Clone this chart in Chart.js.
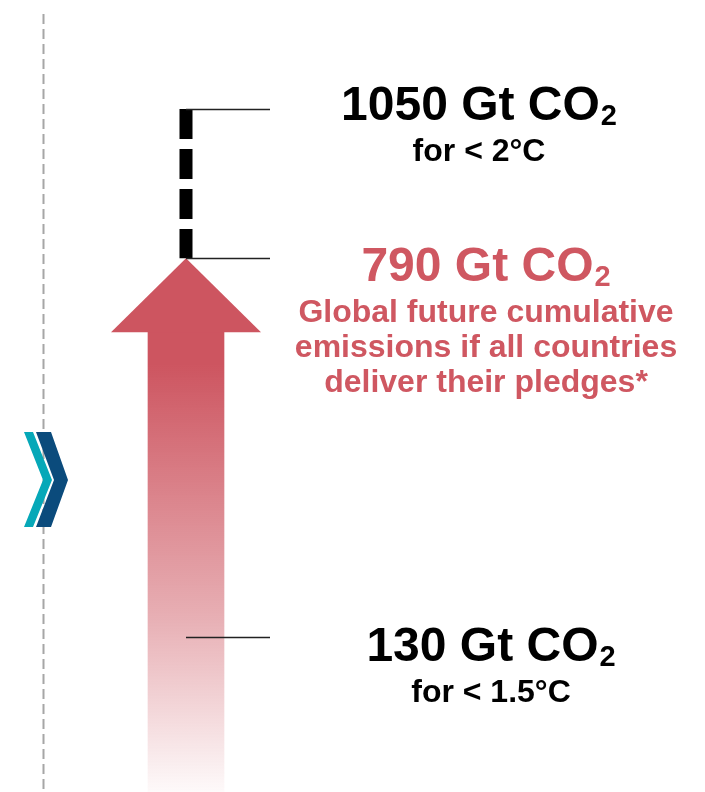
<!DOCTYPE html>
<html>
<head>
<meta charset="utf-8">
<script src="https://cdn.jsdelivr.net/npm/chart.js@4"></script>
<style>
  html, body { margin: 0; padding: 0; background: #fff; }
  #wrap { width: 705px; height: 792px; }
</style>
</head>
<body>
<div id="wrap"><canvas id="chartCanvas" width="705" height="792"></canvas></div>
<script>
// --- data: carbon budgets in Gt CO2 ---
const levels = [1050, 790, 130];
const headlines = ["1050 Gt CO", "790 Gt CO", "130 Gt CO"];
const sublines = [
  ["for < 2°C"],
  ["Global future cumulative", "emissions if all countries", "deliver their pledges*"],
  ["for < 1.5°C"]
];
const pledged = 790;    // where the arrow stops
const budget2C = 1050;  // dashed extension up to the 2°C budget

// --- look ---
const RED = "#cd5560";
const TEXT_RED = "#cf5761";
const FONT = "'Liberation Sans', Arial, sans-serif";
const Y_MIN = -140, Y_MAX = 1240;   // schematic, hidden axis
const HEAD_H = 74, HEAD_HALF = 75;
const textCx = [479, 486, 491];
const textDy = [10, 22, 23];
const textColor = ["#000", TEXT_RED, "#000"];

const canvas = document.getElementById("chartCanvas");

function shaftColor(c) {
  const chart = c.chart;
  const area = chart.chartArea;
  if (!area) return RED;
  const top = chart.scales.y.getPixelForValue(pledged) + HEAD_H;
  const g = chart.ctx.createLinearGradient(0, top, 0, area.bottom);
  g.addColorStop(0, "rgba(205,85,96,1)");
  g.addColorStop(0.07, "rgba(205,85,96,1)");
  g.addColorStop(0.62, "rgba(205,85,96,0.47)");
  g.addColorStop(1, "rgba(205,85,96,0.03)");
  return g;
}

const decor = {
  id: "decor",
  beforeDatasetsDraw(chart) {
    const ctx = chart.ctx;
    // grey dashed divider
    ctx.save();
    ctx.strokeStyle = "#a6a6a6";
    ctx.lineWidth = 2;
    ctx.setLineDash([10, 5]);
    ctx.beginPath();
    ctx.moveTo(43.5, 14);
    ctx.lineTo(43.5, chart.height);
    ctx.stroke();
    ctx.setLineDash([]);
    // chevrons
    const poly = (pts, col) => {
      ctx.fillStyle = col;
      ctx.beginPath();
      pts.forEach((p, i) => i ? ctx.lineTo(p[0], p[1]) : ctx.moveTo(p[0], p[1]));
      ctx.closePath();
      ctx.fill();
    };
    poly([[24, 432], [33, 432], [52, 480], [33, 527], [24, 527], [43, 480]], "#06a8b8");
    poly([[36, 432], [51, 432], [68, 480], [51, 527], [36, 527], [54, 480]], "#0b4b7c");
    ctx.restore();
  },
  beforeDatasetDraw(chart, args) {
    if (args.index !== 1) return;
    // shaft stops under the arrow head (small overlap so no seam)
    const bar = args.meta.data[0];
    const ctx = chart.ctx;
    ctx.save();
    ctx.beginPath();
    ctx.rect(0, bar.y + HEAD_H - 2, chart.width, chart.height);
    ctx.clip();
  },
  afterDatasetDraw(chart, args) {
    if (args.index !== 1) return;
    const ctx = chart.ctx;
    ctx.restore();
    const bar = args.meta.data[0];
    ctx.save();
    ctx.fillStyle = RED;
    ctx.beginPath();
    ctx.moveTo(bar.x, bar.y);
    ctx.lineTo(bar.x + HEAD_HALF, bar.y + HEAD_H);
    ctx.lineTo(bar.x - HEAD_HALF, bar.y + HEAD_H);
    ctx.closePath();
    ctx.fill();
    ctx.restore();
  },
  afterDatasetsDraw(chart) {
    const ctx = chart.ctx;
    const x0 = chart.scales.x.getPixelForValue(1);
    ctx.save();
    levels.forEach((v, i) => {
      const y = Math.round(chart.scales.y.getPixelForValue(v)) + 0.5;
      // leader line
      ctx.strokeStyle = "#222";
      ctx.lineWidth = 1.3;
      ctx.beginPath();
      ctx.moveTo(x0, y);
      ctx.lineTo(x0 + 84, y);
      ctx.stroke();

      // headline with subscript 2
      const base = y + textDy[i];
      ctx.fillStyle = textColor[i];
      ctx.textAlign = "left";
      ctx.textBaseline = "alphabetic";
      ctx.font = "bold 48px " + FONT;
      const w1 = ctx.measureText(headlines[i]).width;
      ctx.font = "bold 29px " + FONT;
      const w2 = ctx.measureText("2").width;
      const sx = textCx[i] - (w1 + w2 + 1) / 2;
      ctx.font = "bold 48px " + FONT;
      ctx.fillText(headlines[i], sx, base);
      ctx.font = "bold 29px " + FONT;
      ctx.fillText("2", sx + w1 + 1, base + 5);

      // lines below
      ctx.textAlign = "center";
      ctx.font = "bold 32px " + FONT;
      sublines[i].forEach((s, j) => {
        ctx.fillText(s, textCx[i], base + 41 + j * 35);
      });
    });
    ctx.restore();
  }
};

const chart = new Chart(canvas, {
  type: "bar",
  data: {
    datasets: [
      {
        type: "line",
        label: "Up to 2°C budget",
        data: [{ x: 1, y: budget2C }, { x: 1, y: pledged }],
        borderColor: "#000",
        borderWidth: 13,
        borderDash: [30, 10],
        borderCapStyle: "butt",
        pointRadius: 0,
        order: 1
      },
      {
        label: "Pledged emissions",
        data: [{ x: 1, y: [Y_MIN, pledged] }],
        backgroundColor: shaftColor,
        borderWidth: 0,
        barThickness: 76,
        order: 2
      }
    ]
  },
  options: {
    responsive: false,
    animation: false,
    layout: { padding: { left: 0, right: 333, top: 0, bottom: 0 } },
    plugins: { legend: { display: false }, tooltip: { enabled: false } },
    scales: {
      x: { type: "linear", min: 0, max: 2, offset: false, display: false },
      y: { type: "linear", min: Y_MIN, max: Y_MAX, display: false }
    }
  },
  plugins: [decor]
});
</script>
</body>
</html>
